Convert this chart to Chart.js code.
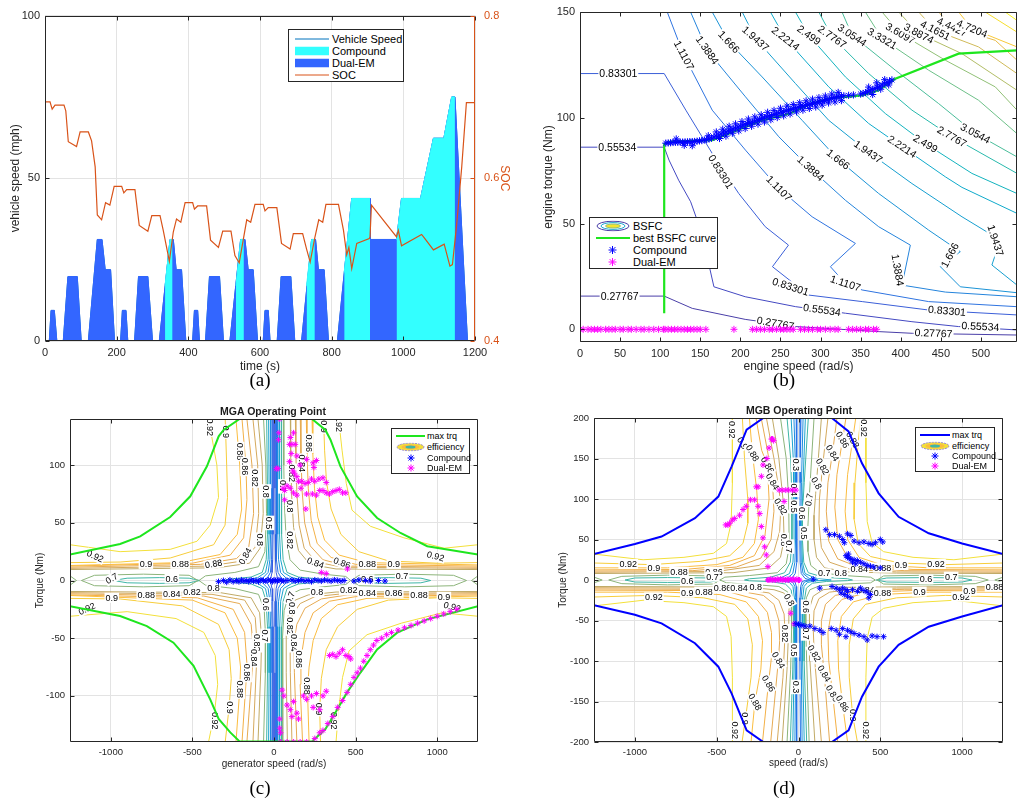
<!DOCTYPE html>
<html><head><meta charset="utf-8">
<script src="https://cdn.jsdelivr.net/npm/chart.js@4.4.1/dist/chart.umd.min.js"></script>
<style>
body{margin:0;width:1024px;height:806px;background:#fff;position:relative;overflow:hidden;font-family:"Liberation Sans",Arial,sans-serif;color:#000}
canvas{position:absolute;z-index:0}
.pl{position:absolute;z-index:2;font-family:"Liberation Serif","DejaVu Serif",serif;font-size:19px;transform:translate(-50%,-50%);white-space:nowrap}
.ttl{position:absolute;z-index:2;font-weight:bold;font-size:10.5px;transform:translate(-50%,-50%);white-space:nowrap;color:#1a1a1a}
.lg{position:absolute;z-index:2;background:#fff;border:1px solid #262626;box-sizing:border-box}
.lg .it{position:absolute;left:0;transform:translateY(-50%)}
.lg .tx{position:absolute;white-space:nowrap;transform:translateY(-50%);line-height:1}
</style></head><body>
<canvas id="ca" width="512" height="390" style="left:0;top:0;width:512px;height:390px"></canvas>
<canvas id="cb" width="512" height="390" style="left:512px;top:0;width:512px;height:390px"></canvas>
<canvas id="cc" width="512" height="380" style="left:0;top:400px;width:512px;height:380px"></canvas>
<canvas id="cd" width="512" height="380" style="left:512px;top:400px;width:512px;height:380px"></canvas>

<div class="pl" style="left:260px;top:380px">(a)</div>
<div class="pl" style="left:784px;top:380px">(b)</div>
<div class="pl" style="left:260px;top:788px">(c)</div>
<div class="pl" style="left:784px;top:788px">(d)</div>
<div class="ttl" style="left:273px;top:411px">MGA Operating Point</div>
<div class="ttl" style="left:799px;top:410px">MGB Operating Point</div>

<!-- legend (a) -->
<div class="lg" style="left:288px;top:29px;width:116px;height:53px;font-size:11px">
  <svg class="it" style="left:6px;top:9px" width="34" height="4"><line x1="0" y1="2" x2="34" y2="2" stroke="#0072bd" stroke-width="1"/></svg>
  <div class="tx" style="left:43px;top:9px">Vehicle Speed</div>
  <svg class="it" style="left:6px;top:21px" width="34" height="9"><rect x="0" y="0" width="34" height="9" fill="#33ffff"/></svg>
  <div class="tx" style="left:43px;top:21px">Compound</div>
  <svg class="it" style="left:6px;top:33px" width="34" height="9"><rect x="0" y="0" width="34" height="9" fill="#3366ff"/></svg>
  <div class="tx" style="left:43px;top:33px">Dual-EM</div>
  <svg class="it" style="left:6px;top:45px" width="34" height="4"><line x1="0" y1="2" x2="34" y2="2" stroke="#d95319" stroke-width="1"/></svg>
  <div class="tx" style="left:43px;top:45px">SOC</div>
</div>

<!-- legend (b) -->
<div class="lg" style="left:589px;top:217px;width:129px;height:52px;font-size:11px">
  <svg class="it" style="left:6px;top:8px" width="34" height="11"><ellipse cx="17" cy="5.5" rx="16" ry="4.8" fill="none" stroke="#4a3fa8" stroke-width="1"/><ellipse cx="17" cy="5.5" rx="12" ry="3.4" fill="none" stroke="#1ba6d0" stroke-width="1"/><ellipse cx="17" cy="5.5" rx="7.5" ry="2" fill="#f5e52f" stroke="#8cc07a" stroke-width="1"/></svg>
  <div class="tx" style="left:43px;top:8px">BSFC</div>
  <svg class="it" style="left:6px;top:20px" width="34" height="4"><line x1="0" y1="2" x2="34" y2="2" stroke="#1ee61e" stroke-width="2.2"/></svg>
  <div class="tx" style="left:43px;top:20px">best BSFC curve</div>
  <svg class="it" style="left:18px;top:32px" width="9" height="9"><g stroke="#0000ff" stroke-width="1"><line x1="4.5" y1="0.5" x2="4.5" y2="8.5"/><line x1="0.5" y1="4.5" x2="8.5" y2="4.5"/><line x1="1.6" y1="1.6" x2="7.4" y2="7.4"/><line x1="7.4" y1="1.6" x2="1.6" y2="7.4"/></g></svg>
  <div class="tx" style="left:43px;top:32px">Compound</div>
  <svg class="it" style="left:18px;top:44px" width="9" height="9"><g stroke="#ff00ff" stroke-width="1"><line x1="4.5" y1="0.5" x2="4.5" y2="8.5"/><line x1="0.5" y1="4.5" x2="8.5" y2="4.5"/><line x1="1.6" y1="1.6" x2="7.4" y2="7.4"/><line x1="7.4" y1="1.6" x2="1.6" y2="7.4"/></g></svg>
  <div class="tx" style="left:43px;top:44px">Dual-EM</div>
</div>

<!-- legend (c) -->
<div class="lg" style="left:391px;top:428px;width:79px;height:46px;font-size:9px">
  <svg class="it" style="left:4px;top:7px" width="29" height="4"><line x1="0" y1="2" x2="29" y2="2" stroke="#1ee61e" stroke-width="2"/></svg>
  <div class="tx" style="left:35px;top:7px">max trq</div>
  <svg class="it" style="left:4px;top:18px" width="29" height="9"><ellipse cx="14.5" cy="4.5" rx="13.5" ry="3.8" fill="#f3e03a" stroke="#9a8ad8" stroke-dasharray="2,1"/><ellipse cx="14.5" cy="4.5" rx="9" ry="2.4" fill="#fbbd3f"/><ellipse cx="14.5" cy="4.5" rx="5" ry="1.5" fill="#3fb6a6"/></svg>
  <div class="tx" style="left:35px;top:18px">efficiency</div>
  <svg class="it" style="left:15px;top:28.5px" width="8" height="8"><g stroke="#0000ff" stroke-width="1"><line x1="4" y1="0.5" x2="4" y2="7.5"/><line x1="0.5" y1="4" x2="7.5" y2="4"/><line x1="1.5" y1="1.5" x2="6.5" y2="6.5"/><line x1="6.5" y1="1.5" x2="1.5" y2="6.5"/></g></svg>
  <div class="tx" style="left:35px;top:28.5px">Compound</div>
  <svg class="it" style="left:15px;top:38.5px" width="8" height="8"><g stroke="#ff00ff" stroke-width="1"><line x1="4" y1="0.5" x2="4" y2="7.5"/><line x1="0.5" y1="4" x2="7.5" y2="4"/><line x1="1.5" y1="1.5" x2="6.5" y2="6.5"/><line x1="6.5" y1="1.5" x2="1.5" y2="6.5"/></g></svg>
  <div class="tx" style="left:35px;top:38.5px">Dual-EM</div>
</div>

<!-- legend (d) -->
<div class="lg" style="left:915px;top:427px;width:80px;height:45px;font-size:9px">
  <svg class="it" style="left:4px;top:7px" width="30" height="4"><line x1="0" y1="2" x2="30" y2="2" stroke="#0000ff" stroke-width="2"/></svg>
  <div class="tx" style="left:36px;top:7px">max trq</div>
  <svg class="it" style="left:4px;top:17.5px" width="30" height="9"><ellipse cx="15" cy="4.5" rx="14" ry="3.8" fill="#f3e03a" stroke="#9a8ad8" stroke-dasharray="2,1"/><ellipse cx="15" cy="4.5" rx="9.5" ry="2.4" fill="#fbbd3f"/><ellipse cx="15" cy="4.5" rx="5" ry="1.5" fill="#3fb6a6"/></svg>
  <div class="tx" style="left:36px;top:17.5px">efficiency</div>
  <svg class="it" style="left:15px;top:28px" width="8" height="8"><g stroke="#0000ff" stroke-width="1"><line x1="4" y1="0.5" x2="4" y2="7.5"/><line x1="0.5" y1="4" x2="7.5" y2="4"/><line x1="1.5" y1="1.5" x2="6.5" y2="6.5"/><line x1="6.5" y1="1.5" x2="1.5" y2="6.5"/></g></svg>
  <div class="tx" style="left:36px;top:28px">Compound</div>
  <svg class="it" style="left:15px;top:38px" width="8" height="8"><g stroke="#ff00ff" stroke-width="1"><line x1="4" y1="0.5" x2="4" y2="7.5"/><line x1="0.5" y1="4" x2="7.5" y2="4"/><line x1="1.5" y1="1.5" x2="6.5" y2="6.5"/><line x1="6.5" y1="1.5" x2="1.5" y2="6.5"/></g></svg>
  <div class="tx" style="left:36px;top:38px">Dual-EM</div>
</div>

<script>
// ================= DATA =================
// ---- (a) drive cycle ----
const aTimeTicks = [0, 200, 400, 600, 800, 1000, 1200];
const aSpeedTicks = [0, 50, 100];
const aSocTicks = [0.4, 0.6, 0.8];
const speedT = [0, 12, 17, 26, 33, 51, 64, 90, 101, 121, 146, 159, 168, 183, 194, 211, 216, 226, 231, 250, 261, 287, 300,
  319, 349, 358, 366, 381, 393, 412, 417, 426, 431, 448, 459, 487, 498, 516, 546, 558, 567, 581, 593,
  609, 614, 623, 628, 648, 659, 686, 697, 716, 744, 755, 763, 779, 791,
  816, 856, 907, 907, 981, 995, 1048, 1084, 1113, 1135, 1144, 1179, 1200];
const speedV = [0, 0, 9.4, 9.4, 0, 0, 19.8, 19.8, 0, 0, 31.2, 31.2, 21.9, 21.9, 0, 0, 9.4, 9.4, 0, 0, 19.8, 19.8, 0,
  0, 31.2, 31.2, 21.9, 21.9, 0, 0, 9.4, 9.4, 0, 0, 19.8, 19.8, 0, 0, 31.2, 31.2, 21.9, 21.9, 0,
  0, 9.4, 9.4, 0, 0, 19.8, 19.8, 0, 0, 31.2, 31.2, 21.9, 21.9, 0,
  0, 43.8, 43.8, 31.2, 31.2, 43.8, 43.8, 62.3, 62.3, 75, 75, 0, 0];
const compT = [335, 349, 356, 356, 533, 546, 555, 555, 730, 744, 753, 753, 835, 856, 907, 907, 981, 995, 1048, 1084, 1113, 1135, 1144];
const compV = [17, 31.2, 31.2, null, 17, 31.2, 31.2, null, 17, 31.2, 31.2, null, 21, 43.8, 43.8, null, 31.2, 43.8, 43.8, 62.3, 62.3, 75, 75];
const socT = [0, 14, 20, 28, 53, 58, 65, 88, 98, 121, 130, 140, 146, 158, 169, 181, 193, 214, 220, 228, 251, 263, 287, 298, 321, 330, 347, 358, 367, 379, 391,
  412, 417, 426, 451, 462, 484, 496, 519, 530, 542, 563, 574, 586, 609, 614, 623, 647, 660, 684, 693, 719, 730, 740, 753, 764, 775, 784,
  819, 833, 842, 848, 856, 870, 905, 907, 911, 981, 986, 995, 1051, 1058, 1084, 1114, 1130, 1137, 1149, 1163, 1176, 1200];
const socV = [0.694, 0.694, 0.685, 0.690, 0.690, 0.683, 0.645, 0.639, 0.657, 0.657, 0.646, 0.614, 0.555, 0.549, 0.570, 0.567, 0.590, 0.590, 0.582, 0.586, 0.586, 0.542, 0.535, 0.554, 0.554, 0.536, 0.498, 0.534, 0.550, 0.546, 0.570,
  0.570, 0.562, 0.566, 0.566, 0.524, 0.515, 0.535, 0.535, 0.505, 0.496, 0.549, 0.546, 0.568, 0.568, 0.560, 0.564, 0.564, 0.520, 0.513, 0.532, 0.532, 0.513, 0.497, 0.527, 0.549, 0.546, 0.568,
  0.568, 0.536, 0.506, 0.515, 0.489, 0.520, 0.526, 0.528, 0.567, 0.528, 0.536, 0.517, 0.531, 0.527, 0.512, 0.519, 0.492, 0.494, 0.544, 0.614, 0.693, 0.693];

// ---- (b) engine BSFC map ----
const bSpeedTicks = [0, 50, 100, 150, 200, 250, 300, 350, 400, 450, 500];
const bTorqueTicks = [0, 50, 100, 150];
const bsfcLevels = ['0.27767', '0.55534', '0.83301', '1.1107', '1.3884', '1.666', '1.9437', '2.2214', '2.499', '2.7767', '3.0544', '3.3321', '3.6097', '3.8874', '4.1651', '4.4427', '4.7204', '4.998', '5.2757'];
const bsfcCurves = [
  [0,15.7, 105,15.7, 140,9.9, 206,4.7, 269,1.3, 373,-1.1, 415,-1.9, 545,-2.7],
  [0,86.1, 105,86.1, 111,80, 123,70.5, 138,60.3, 152,45.3, 167,20.1, 206,15.4, 269,10.7, 331,7.6, 414,3.6, 472,1.3, 545,-0.3],
  [0,120.9, 105,120.9, 132,103.6, 165,83.1, 198,64.2, 231,48.5, 260,39.8, 240,29.6, 285,16.2, 352,13.1, 435,9.1, 545,6.8],
  [108.8,150, 129.6,129.5, 164.9,103.6, 206.4,84.7, 248,66.6, 289.5,53.2, 343.5,40.6, 312.3,29.6, 331,21.7, 351.8,18.6, 434.8,13.1, 545,10.7],
  [137.9,150, 158.6,131.9, 206.4,109.9, 248,91, 287.4,76, 331,61, 372.5,48.5, 412,39.8, 401.6,20.9, 455.6,17.6, 545,15.4],
  [164.9,150, 185.6,135.8, 227.2,119.3, 277,98.8, 321.9,80.3, 372.5,64.2, 434.8,46.9, 474.3,36.7, 449.4,29.6, 474.3,20.1, 545,17.3],
  [202.3,150, 218.9,137.4, 268.7,116.2, 310.2,98.8, 359.2,83.9, 414,68.9, 476.4,53.2, 524.1,42.2, 513.7,30.4, 545,20.9],
  [237.5,150, 256.2,137.4, 310.2,114.6, 360,97.3, 401.6,86.3, 455.6,72.1, 476.4,67.1, 545,54.8],
  [268.7,150, 285.3,139, 331,119.3, 380.8,102, 430.7,87.8, 488.8,73.7, 545,64.2],
  [297.8,150, 314.4,138.2, 360,120.9, 414,103.6, 463.9,91, 545,73.7],
  [326.8,150, 339.3,139, 393.3,122.5, 447.3,106.7, 493,92.6, 545,81.5],
  [355.9,150, 376.7,137.4, 434.8,122.5, 497,108.3, 545,92.5],
  [376.7,150, 399.5,139.8, 455.6,127.2, 517.9,114.6, 545,103.6],
  [397.4,150, 422.4,139.8, 476.4,130.3, 545,113],
  [422.4,150, 443.1,141.3, 497,133.5, 545,120.9],
  [447.3,150, 463.9,142.9, 517.9,136.6, 545,127.2],
  [472.2,150, 488.8,142.1, 545,133.5],
  [505.3,150, 545,140.5],
  [530.3,150, 545,146]
];
const bestBsfc = [105,7.6, 105,87.6, 111,88.6, 165,89.4, 185.6,92.5, 227,98.8, 260.4,101.9, 289.5,106.7, 310.2,109.1, 351.8,110.6, 372.5,113, 393.3,118.5, 472.2,130.3, 545,131.9];
const bCompound = [107,88.0, 110,88.1, 113,88.2, 116,88.3, 119,88.4, 122,88.4, 125,88.5, 128,88.5, 131,88.6, 134,88.6, 137,88.7, 140,88.7, 143,88.8, 146,88.9, 149,89.1,
  152,89.2, 155,89.5, 158,89.7, 161,90.0, 164,90.4, 167,90.9, 170,91.3, 173,91.8, 176,92.3, 179,92.8, 182,93.3, 185,93.7, 188,94.2, 191,94.7, 194,95.1, 197,95.6,
  200,96.0, 203,96.5, 206,96.9, 209,97.3, 212,97.6, 215,98.0, 218,98.4, 221,98.8, 224,99.2, 227,99.6, 230,100.0, 233,100.4, 236,100.8, 239,101.1, 242,101.5,
  245,101.9, 248,102.2, 251,102.6, 254,102.9, 257,103.3, 260,103.6, 263,103.9, 266,104.3, 269,104.6, 272,104.9, 275,105.3, 278,105.6, 281,105.9, 284,106.2,
  287,106.5, 290,106.8, 293,107.0, 296,107.3, 299,107.6, 302,107.9, 305,108.2, 308,108.5, 311,108.9, 314,109.2, 317,109.5, 320,109.8, 323,110.0, 326,110.2,
  329,110.4, 335,110.6, 341,110.8, 350,111.2, 353,111.5, 356,111.9, 359,112.2, 362,112.7, 365,113.3, 368,113.8, 371,114.4, 374,114.9, 377,115.5, 380,116.1,
  383,116.7, 386,117.3, 389,117.9,
  170,93.3, 178,94.6, 186,96, 194,97.1, 202,98.2, 210,99.4, 218,100.4, 226,101.4, 234,102.6, 242,103.5, 250,104.5, 258,105.5, 266,106.3, 274,107.1, 282,108,
  290,108.8, 298,109.5, 306,110.3, 314,111.2, 322,112,
  174,90.2, 182,91.3, 190,92.7, 198,93.8, 206,94.9, 214,96, 222,97, 230,98, 238,99.1, 246,100.1, 254,100.9, 262,101.8, 270,102.8, 278,103.6, 286,104.4,
  294,105.1, 302,106, 310,107, 318,107.5, 326,108.1,
  360,114.5, 370,116.5, 380,118, 365,111, 375,113.5, 385,115.5, 120,90, 140,86.8, 160,91.5, 130,87];
const bDualEM = [0,0, 4,0, 10,0, 14,0, 18,0, 22,0, 26,0, 32,0, 36,0, 40,0, 44,0, 50,0, 54,0, 60,0, 64,0, 70,0, 76,0, 80,0, 86,0, 92,0, 98,0, 104,0, 106,0, 110,0,
  114,0, 118,0, 122,0, 126,0, 130,0, 134,0, 138,0, 142,0, 146,0, 150,0, 157,0, 192,0, 215,0, 220,0, 225,0, 230,0, 236,0, 240,0, 245,0, 250,0, 254,0, 258,0, 262,0, 266,0,
  275,0, 280,0, 285,0, 290,0, 296,0, 300,0, 306,0, 312,0, 318,0, 322,0, 335,0, 340,0, 345,0, 350,0, 356,0, 360,0, 366,0, 370,0];
const bLabels = [
  ['0.83301',47.8,120.9,0], ['0.55534',46.5,85.8,0], ['0.27767',49.4,15.4,0],
  ['1.1107',129.6,129.5,62], ['1.3884',158.6,131.9,55], ['1.666',185.6,135.8,47], ['1.9437',218.9,137.4,42], ['2.2214',256.2,137.4,38],
  ['2.499',285.3,139,36], ['2.7767',314.4,138.2,35], ['3.0544',339.3,139,33], ['3.3321',376.7,137.4,30], ['3.6097',399.5,139.8,30],
  ['3.8874',422.4,139.8,28], ['4.1651',443.1,141.3,27], ['4.4427',463.9,142.9,25], ['4.7204',488.8,142.1,22],
  ['0.83301',175.3,74.5,58], ['1.1107',248,66.6,45], ['1.3884',287.4,76,42], ['1.666',321.9,80.3,38], ['1.9437',359.2,83.9,35],
  ['2.2214',401.6,86.3,33], ['2.499',430.7,87.8,30], ['2.7767',463.9,91,30], ['3.0544',493,92.6,28],
  ['0.83301',262.5,20.1,18], ['1.1107',331,21.7,18], ['1.3884',396,28,80], ['1.666',461.5,35,-62], ['1.9437',518,42,72],
  ['0.55534',301.9,9.1,8], ['0.83301',457.7,8.7,5], ['0.55534',499.2,1.3,3], ['0.27767',441,-1.9,2], ['0.27767',243.8,2.8,10]
];

// ---- (c) MGA efficiency map (flat x,y pairs, null = break) ----
const cSpeedTicks = [-1000, -500, 0, 500, 1000];
const cTorqueTicks = [-100, -50, 0, 50, 100];
const mgaLevels = ['0.92', '0.9', '0.88', '0.86', '0.84', '0.82', '0.8', '0.7', '0.6', '0.5', '0.4', '0.3', '0.2'];
const mgaCurves = [
  [396,140, 417,113, 443,84, 478,61, 591,47, 796,37, 1042,28, 1250,31, null,
   -401,140, -350,100, -340,72, -391,48, -472,34, -636,27, -943,25, -1250,31, null,
   380,-140, 395,-113, 420,-84, 460,-61, 570,-47, 780,-37, 1030,-28, 1250,-31, null,
   -401,-140, -365,-115, -345,-90, -360,-65, -430,-45, -600,-33, -900,-27, -1250,-31],
  [304,140, 310,113, 322,85, 350,62, 410,40, 520,25, 700,17, 1000,15, 1250,15.5, null,
   -299,140, -290,100, -285,72, -300,48, -370,31, -636,19.5, -943,16, -1250,15.5, null,
   285,-140, 280,-112, 290,-85, 320,-60, 390,-40, 510,-25, 700,-17, 1000,-15, 1250,-15.5, null,
   -299,-140, -275,-110, -262,-85, -275,-60, -340,-38, -560,-22, -943,-16, -1250,-15.5],
  [233,140, 238,110, 248,80, 268,55, 310,35, 400,22, 570,15.5, 1250,13.5, null,
   -233,140, -210,100, -198,62, -225,40, -330,22.5, -575,15.5, -1250,13, null,
   215,-140, 205,-95, 215,-75, 240,-52, 290,-33, 390,-21, 570,-15.5, 1250,-13.5, null,
   -233,-140, -210,-95, -205,-75, -225,-50, -300,-28, -500,-17, -1250,-13],
  [198,140, 202,110, 210,80, 228,52, 265,32, 350,20, 500,14, 1250,12.5, null,
   -196,140, -172,100, -166,70, -186,37, -268,22, -500,15, -1250,12.5, null,
   175,-140, 160,-90, 165,-68, 190,-45, 240,-28, 340,-18, 500,-14, 1250,-12.5, null,
   -196,-140, -170,-85, -166,-72, -180,-45, -250,-25, -470,-15, -1250,-12.5],
  [161,140, 165,110, 172,78, 188,50, 222,30, 300,18, 450,12.5, 1250,11.5, null,
   -166,140, -135,100, -125,58, -155,29, -230,19, -450,14, -1250,11.5, null,
   140,-140, 125,-80, 121,-54, 140,-38, 190,-24, 290,-16, 450,-12.5, 1250,-11.5, null,
   -166,-140, -135,-80, -125,-62, -140,-38, -210,-20, -430,-13.5, -1250,-11.5],
  [131,140, 134,110, 140,76, 154,48, 185,28, 260,16, 420,11.5, 1250,10.5, null,
   -129,140, -100,100, -94,58, -115,29, -190,17, -400,12.5, -1250,10.5, null,
   110,-140, 100,-80, 98,-45, 112,-30, 160,-20, 250,-14, 420,-11.5, 1250,-10.5, null,
   -129,-140, -108,-75, -104,-54, -115,-32, -180,-17, -380,-12, -1250,-10.5],
  [100,140, 102,110, 108,74, 120,46, 150,26, 220,14, 380,10, 1250,9.5, null,
   -98,140, -72,100, -66,58, -85,28, -150,15, -350,11, -1250,9.5, null,
   82,-140, 75,-80, 75,-45, 90,-26, 130,-17, 210,-12.5, 380,-10, 1250,-9.5, null,
   -98,-140, -80,-75, -76,-50, -88,-28, -140,-15, -330,-10.5, -1250,-9.5],
  [59,140, 60,100, 64,65, 74,38, 98,18, 160,9, 300,5.5, 440,3.5, 470,0, 440,-3.5, 300,-5.5, 160,-8, 90,-13, 62,-26, 52,-50, 52,-90, 55,-140, null,
   -64,140, -50,100, -46,58, -56,25, -95,12, -240,7, -420,4, -460,0, -420,-4, -240,-7, -95,-12, -60,-25, -52,-48, -53,-80, -64,-140, null,
   475,0, 520,4.5, 800,5.5, 1100,4.5, 1180,0, 1100,-4.5, 800,-5.5, 520,-4.5, 475,0, null,
   -465,0, -520,4.5, -800,5.5, -1100,4.5, -1180,0, -1100,-4.5, -800,-5.5, -520,-4.5, -465,0, null,
   1250,4, 1210,0, 1250,-4, null, -1250,4, -1210,0, -1250,-4],
  [45,140, 45,80, 48,40, 56,18, 80,7, 150,3, 280,1.2, 320,0, 280,-1.2, 150,-3, 80,-7, 56,-18, 48,-40, 45,-80, 45,-140, null,
   -45,140, -40,80, -40,40, -48,18, -72,7, -140,3, -270,1.2, -310,0, -270,-1.2, -140,-3, -72,-7, -48,-18, -40,-40, -40,-80, -45,-140, null,
   490,0, 540,2, 700,2.5, 900,2, 960,0, 900,-2, 700,-2.5, 540,-2, 490,0, null,
   -455,0, -520,2, -700,2.5, -900,2, -985,0, -900,-2, -700,-2.5, -520,-2, -455,0],
  [33,140, 33,80, 35,40, 41,18, 58,7, 110,2.5, 190,0, 110,-2.5, 58,-7, 41,-18, 35,-40, 33,-80, 33,-140, null,
   -33,140, -30,80, -30,40, -36,18, -52,7, -100,2.5, -180,0, -100,-2.5, -52,-7, -36,-18, -30,-40, -30,-80, -33,-140],
  [22,140, 22,80, 24,40, 28,18, 40,7, 75,2, 120,0, 75,-2, 40,-7, 28,-18, 24,-40, 22,-80, 22,-140, null,
   -22,140, -21,80, -21,40, -25,18, -36,7, -70,2, -115,0, -70,-2, -36,-7, -25,-18, -21,-40, -21,-80, -22,-140],
  [13,140, 13,80, 14,40, 17,18, 25,7, 45,2, 70,0, 45,-2, 25,-7, 17,-18, 14,-40, 13,-80, 13,-140, null,
   -13,140, -12,80, -12,40, -15,18, -22,7, -42,2, -65,0, -42,-2, -22,-7, -15,-18, -12,-40, -12,-80, -13,-140],
  [6,140, 6,80, 7,40, 9,18, 13,7, 22,2, 35,0, 22,-2, 13,-7, 9,-18, 7,-40, 6,-80, 6,-140, null,
   -6,140, -6,80, -6,40, -8,18, -12,7, -20,2, -33,0, -20,-2, -12,-7, -8,-18, -6,-40, -6,-80, -6,-140]
];
const mgaMaxTrqTop = [-1250,22.5, -943,31.7, -820,38.3, -636,55, -513,73, -411,99, -339,125, -309,130.5, -211,140, 233,140, 315,130.5, 346,122, 407,98.9, 509,72.9, 632,54.2, 775,41.2, 939,29.7, 1250,22.5];
const mgaMaxTrqBot = [-1250,-22.2, -943,-30.8, -779,-39.5, -616,-53.9, -493,-74, -391,-103, -339,-120, -268,-131.7, -211,-139.5, 233,-139.5, 315,-128.8, 366,-117, 448,-97, 530,-79.8, 632,-59.7, 755,-45.2, 939,-33.7, 1250,-22.2];
const mgaCompound = [-340,-1, -310,0, -290,-1.5, -270,0.5, -250,-1, -230,0, -215,-1, -200,0.5, -185,-0.5, -170,0, -155,-1, -140,0.5, -125,-0.5, -110,0, -95,-1, -80,0.5, -65,0,
  -50,-0.5, -35,0.5, -20,0, -10,-1, 0,0.5, 10,0, 20,-0.5, 30,0.5, 45,0, 60,-0.5, 80,0, 110,0.5, 130,-0.5, 150,0, 170,0.5, 190,-0.5, 210,0, 230,-1, 250,0.5, 270,0,
  290,-0.5, 310,0.5, 330,0, 350,-0.5, 370,0.5, 390,0, 410,-0.5, 430,0, 490,-0.5, 520,0.5, 560,0, 590,-0.5, 640,0, 680,-0.5];
const mgaDualEM = [35,140, 30,128, 28,122, 100,124, 120,128, 95,118, 110,118, 130,118, 105,110, 140,108, 160,100, 200,105, 240,102, 260,104, 245,98, 95,103, 115,95, 125,93,
  140,90, 150,86, 170,86, 190,84, 210,85, 230,88, 250,86, 275,88, 300,89, 320,85, 55,80, 65,78, 80,82, 100,80, 120,76, 140,74, 165,80, 200,75, 235,75, 260,74, 280,78,
  300,78, 320,76, 340,75, 360,77, 380,78, 400,79, 420,76, 440,76, 195,62, 15,97, 25,97, 65,70, 290,7, 320,6, 450,10,
  448,-97, 470,-90, 490,-84, 510,-80, 530,-76, 550,-70, 570,-65, 590,-60, 610,-56, 630,-52, 660,-50, 690,-47, 720,-45, 760,-43, 800,-41, 840,-39, 880,-37, 920,-35,
  960,-33, 1000,-31, 1040,-29, 1080,-27, 1120,-25, 250,-137, 280,-132, 300,-130, 330,-124, 360,-118, 390,-110, 420,-104,
  340,-65, 360,-64, 380,-66, 400,-63, 420,-60, 440,-65, 460,-66, 470,-68,
  50,-95, 60,-100, 80,-108, 100,-112, 120,-105, 110,-118, 140,-115, 150,-120, 180,-100, 200,-103, 230,-100, 260,-98, 300,-100, 320,-96, 240,-110, 280,-112,
  40,-140, 80,-140, 120,-140, 160,-140, 200,-140, 35,-120, 35,-128, 40,-132];
const mgaLabels = [
  ['0.92',-391,132.9,90], ['0.9',-292,129,90], ['0.88',-211,111.8,90], ['0.86',-176,98.9,90], ['0.82',-115,88.8,90], ['0.8',-49,77.2,90], ['0.8',-88,35.4,90], ['0.5',-29,49.9,90],
  ['0.9',305,133.4,90], ['0.92',397,136.3,90], ['0.86',213,119,90], ['0.84',172,101.7,90], ['0.82',110,93,90], ['0.7',55,81.6,90], ['0.8',100,64.3,90], ['0.82',100,35,90],
  ['0.92',-1096,21,25], ['0.9',-785,14.4,0], ['0.88',-575,14.4,0], ['0.88',-370,14.4,-10], ['0.84',-176,21,-60],
  ['0.84',254,15.3,20], ['0.86',417,15.3,20], ['0.88',571,14.4,0], ['0.9',734,14.4,0], ['0.92',990,21,15],
  ['0.7',-994,1.7,-30], ['0.6',-626,1.7,0], ['0.6',571,0.9,0], ['0.7',785,4.3,0],
  ['0.9',-994,-15,0], ['0.88',-783,-13,0], ['0.84',-626,-11.5,0], ['0.82',-503,-10,0], ['0.8',-370,-6.3,0],
  ['0.8',264,-10,0], ['0.82',458,-8.6,0], ['0.84',571,-10.7,0], ['0.86',734,-10.7,0], ['0.88',888,-13,0], ['0.9',1041,-14.1,0], ['0.92',1092,-22.8,15], ['0.92',-1147,-24.5,-25],
  ['0.6',-47,-20.7,90], ['0.7',100,-15,-70], ['0.8',110,-24,90],
  ['0.7',-53,-48,90], ['0.82',-104,-54,90], ['0.84',-125,-66.9,90], ['0.86',-166,-79.8,90], ['0.88',-207,-94.2,90], ['0.9',-268,-110,90], ['0.92',-360,-121.6,90],
  ['0.82',100,-39.5,90], ['0.84',121,-54,90], ['0.86',151,-68.3,90], ['0.88',202,-91.4,90], ['0.9',274,-111.5,90], ['0.92',366,-121.6,90]
];

// ---- (d) MGB efficiency map ----
const dSpeedTicks = [-1000, -500, 0, 500, 1000];
const dTorqueTicks = [-200, -150, -100, -50, 0, 50, 100, 150, 200];
const mgbLevels = ['0.92', '0.9', '0.88', '0.86', '0.84', '0.82', '0.8', '0.7', '0.6', '0.5', '0.4', '0.3'];
const mgbCurves = [
  [412,200, 412,120, 420,72, 450,46, 520,35, 700,28, 950,25, 1250,32, null,
   -404,200, -404,120, -412,70, -440,45, -520,33, -700,28, -950,25, -1250,32, null,
   412,-200, 412,-120, 420,-72, 450,-46, 520,-35, 700,-28, 950,-25, 1250,-32, null,
   -404,-200, -404,-120, -412,-70, -440,-45, -520,-33, -700,-28, -950,-25, -1250,-32],
  [380,200, 365,170, 345,120, 340,75, 365,45, 440,29, 620,21, 900,19, 1250,21, null,
   -343,200, -330,150, -310,100, -310,70, -340,45, -420,30, -600,23, -900,19, -1250,21, null,
   360,-200, 331,-167, 310,-120, 310,-80, 335,-48, 410,-30, 600,-22, 900,-19, 1250,-21, null,
   -345,-200, -320,-165, -290,-120, -282,-80, -310,-48, -390,-30, -580,-22, -900,-19, -1250,-21],
  [350,200, 331,173, 300,130, 285,85, 300,50, 370,28, 520,18, 800,15, 1250,15, null,
   -300,200, -282,157, -255,110, -245,75, -270,45, -340,28, -500,19, -800,15, -1250,15, null,
   300,-200, 269,-153, 245,-110, 240,-75, 262,-45, 335,-27, 500,-18, 800,-15, 1250,-15, null,
   -290,-200, -266,-150, -230,-110, -220,-75, -245,-45, -320,-27, -480,-18, -800,-15, -1250,-15],
  [290,200, 269,173, 235,130, 222,90, 240,50, 300,28, 440,17, 700,13, 1250,12.5, null,
   -260,200, -225,160, -190,142, -180,100, -205,55, -270,30, -420,18, -700,13, -1250,12.5, null,
   240,-200, 208,-140, 185,-100, 180,-65, 200,-40, 265,-24, 430,-15, 700,-13, 1250,-12.5, null,
   -220,-200, -184,-128, -165,-95, -165,-65, -190,-40, -255,-24, -420,-15, -700,-13, -1250,-12.5],
  [235,200, 208,157, 180,120, 170,85, 185,48, 240,26, 380,15, 650,11.5, 1250,11, null,
   -228,200, -190,160, -159,122, -150,85, -168,50, -230,27, -380,16, -650,11.5, -1250,11, null,
   190,-200, 157,-115, 140,-80, 140,-50, 165,-30, 225,-19, 380,-13, 650,-11.5, 1250,-11, null,
   -170,-200, -123,-99, -115,-75, -120,-50, -150,-30, -215,-19, -380,-13, -650,-11.5, -1250,-11],
  [180,200, 147,140, 128,100, 125,70, 140,40, 190,22, 320,13, 600,10, 1250,9.5, null,
   -196,200, -150,150, -118,110, -108,91, -115,60, -150,35, -240,18, -500,10.5, -1250,9.5, null,
   140,-200, 96,-91, 90,-60, 95,-38, 125,-23, 190,-15, 330,-11.5, 600,-10, 1250,-9.5, null,
   -130,-200, -95,-120, -82,-66, -88,-42, -120,-25, -180,-16, -330,-11.5, -600,-10, -1250,-9.5],
  [140,200, 110,120, 95,80, 95,50, 110,28, 160,15, 300,10, 600,8.5, 1250,8, null,
   -160,200, -120,150, -95,100, -88,50, -110,28, -180,15, -400,9, -1250,8, null,
   100,-200, 70,-100, 66,-60, 68,-35, 90,-20, 150,-12, 290,-9, 600,-8.5, 1250,-8, null,
   -100,-200, -70,-110, -60,-60, -57,-25, -90,-16, -150,-12, -300,-9, -600,-8.5, -1250,-8],
  [95,200, 65,99, 56,60, 58,35, 75,18, 130,9, 280,5.5, 440,3.5, 470,0, 440,-3.5, 280,-5, 130,-7, 70,-12, 48,-22, 42,-40, 45,-66, 65,-200, null,
   -110,200, -75,150, -60,100, -57,41, -75,20, -130,9, -300,5.5, -450,3.5, -480,0, -440,-3.5, -280,-5.5, -120,-8, -65,-15, -45,-30, -42,-60, -48,-110, -70,-200, null,
   480,0, 520,5, 800,6, 1080,4.5, 1160,0, 1080,-4.5, 800,-6, 520,-5, 480,0, null,
   -480,0, -520,5, -800,6, -1080,4.5, -1160,0, -1080,-4.5, -800,-6, -520,-5, -480,0, null,
   1250,3.5, 1200,0, 1250,-3.5, null, -1250,3.5, -1200,0, -1250,-3.5],
  [60,200, 35,120, 24,83, 24,50, 32,22, 60,9, 150,3.5, 300,1.5, 330,0, 300,-0.8, 170,-1.8, 85,-4, 48,-10, 36,-25, 34,-50, 35,-100, 50,-200, null,
   -70,200, -48,150, -40,100, -40,50, -50,22, -85,9, -170,3.5, -300,1.5, -330,0, -300,-1, -170,-2, -80,-5, -45,-12, -32,-30, -30,-60, -35,-110, -50,-200, null,
   475,0, 540,2.5, 800,3, 1000,2.5, 1060,0, 1000,-2.5, 800,-3, 540,-2.5, 475,0, null,
   -475,0, -540,2.5, -800,3, -1000,2.5, -1060,0, -1000,-2.5, -800,-3, -540,-2.5, -475,0],
  [42,200, 28,120, 22,80, 20,50, 24,22, 40,8, 100,2.5, 200,0, 110,-1, 55,-3, 34,-8, 26,-22, 24,-50, 26,-100, 35,-200, null,
   -45,200, -32,150, -28,100, -27,50, -34,22, -55,8, -110,2.5, -200,0, -110,-1, -55,-3, -34,-8, -25,-22, -24,-50, -26,-87, -35,-200],
  [28,200, 18,120, 15,80, 14,50, 17,22, 28,8, 65,2, 120,0, 70,-0.8, 36,-2.5, 22,-8, 16,-22, 15,-50, 17,-100, 22,-200, null,
   -28,200, -20,150, -18,100, -18,50, -22,22, -35,8, -70,2, -120,0, -70,-0.8, -36,-2.5, -22,-8, -17,-22, -16,-50, -18,-100, -22,-200],
  [15,200, 10,120, 8,80, 8,50, 10,22, 17,8, 40,2, 70,0, 42,-0.5, 22,-2, 13,-8, 9,-22, 8,-50, 9,-100, 12,-200, null,
   -14,200, -10,150, -10,100, -10,50, -12,22, -20,8, -42,2, -70,0, -42,-0.5, -22,-2, -13,-8, -10,-22, -10,-60, -12,-120, -12,-200]
];
const mgbMaxTrqTop = [-1250,32, -1000,44.5, -837,53.6, -633,76.3, -490,103, -409,140, -317,185.6, -215,200, 204,200, 306,183.5, 388,144, 490,107, 612,78, 796,57.7, 1000,45, 1250,32];
const mgbMaxTrqBot = [-1250,-31, -1000,-43, -837,-53.6, -633,-78, -490,-107, -409,-140, -317,-185.6, -215,-200, 204,-200, 306,-185.6, 388,-144, 490,-107, 612,-80, 796,-57.7, 1000,-45, 1250,-31];
const mgbDualEM = [-159,174, -165,174, -152,172, -180,163, -193,150, -217,142, -227,128, -247,115, -258,115, -268,99, -294,99, -319,91, -339,87, -360,80, -390,76, -405,74,
  -421,70, -431,68, -445,68, -247,91, -237,82, -227,66, -217,52, -207,41, -197,31, -187,16.5, -118,111, -100,111, -78,111, -60,111, -37,111, -16,111, -88,97,
  -187,0, -180,0, -170,1, -160,0, -150,1, -140,0, -130,1, -120,0, -110,1, -100,0, -90,1, -80,0, -70,1, -60,0, -50,1, -40,0, -30,1, -20,0, -10,1, 0,0, 6,0,
  -47,-41, -27,-54];
const mgbCompound = [167,62, 190,56, 220,56, 250,54, 270,50, 280,46, 300,57, 320,55, 340,48, 370,46, 400,47, 430,45, 450,44, 470,46, 500,50, 515,47,
  290,30, 300,28, 310,27, 320,26, 340,25, 360,24, 380,22, 400,20, 420,18, 440,17, 460,16, 500,15, 305,32, 330,22, 350,20,
  90,1, 130,-10, 205,-8, 230,-10, 250,-12, 260,-16, 280,-18, 300,-20, 320,-22, 300,-14, 330,-12, 360,-14, 380,-10, 400,-13, 420,-15, 440,-18, 430,-22, 270,-10, 290,-12,
  -16,-54, 0,-55, 20,-56, 40,-57, 70,-57, 100,-60, 130,-62, 150,-65, 200,-60, 230,-62, 250,-67, 270,-60, 300,-62, 320,-64, 340,-66, 370,-68, 400,-70, 420,-74, 450,-69,
  480,-70, 520,-70, 290,-70];
const mgbLabels = [
  ['0.92',-404,185.6,90], ['0.9',-343,169,60], ['0.88',-282,156.7,60], ['0.86',-190,142,60], ['0.84',-159,121.6,60], ['0.82',-108,90.7,60], ['0.8',-88,49.5,90], ['0.7',-57,41.2,90],
  ['0.3',-16,142.3,90], ['0.4',-26,111.3,90], ['0.5',-26,90.7,90], ['0.5',35,57.7,90], ['0.6',24,82.5,90], ['0.7',65,99,-80],
  ['0.8',110,119.6,60], ['0.82',147,140,60], ['0.84',208,156.7,60], ['0.86',269,173,60], ['0.88',331,173,60], ['0.92',402,187.6,90],
  ['0.92',-1041,19.8,0], ['0.9',-884,15.3,0], ['0.88',-730,10.3,0], ['0.86',-516,10.3,0], ['0.7',-526,4.1,0], ['0.6',-680,-1.2,0],
  ['0.7',157,8.2,0], ['0.8',259,9,0], ['0.84',371,13.2,0], ['0.88',514,15.3,0], ['0.9',627,18.6,0], ['0.92',841,19.8,0], ['0.6',780,0.8,0], ['0.7',933,4.1,0],
  ['0.92',-884,-21.4,0], ['0.9',-680,-15.7,0], ['0.88',-578,-14.4,0], ['0.86',-465,-10.3,0], ['0.84',-363,-10.3,0], ['0.8',-261,-9,0],
  ['0.84',412,-12.4,0], ['0.88',514,-15.7,0], ['0.9',739,-14.4,0], ['0.92',994,-20.6,0], ['0.9',1045,-13.2,0], ['0.88',1198,-8.2,0],
  ['0.82',-82,-66,90], ['0.84',-123,-99,60], ['0.86',-184,-127.8,60], ['0.88',-266,-150.5,60], ['0.9',-327,-171,90], ['0.92',-388,-185.6,90],
  ['0.5',-26,-86.6,90], ['0.3',-16,-132,90], ['0.8',-57,-24.7,60], ['0.6',45,-33,90], ['0.7',45,-66,90],
  ['0.82',96,-90.7,60], ['0.84',157,-115.5,60], ['0.86',208,-140,60], ['0.88',269,-152.6,60], ['0.9',331,-167,90], ['0.92',412,-185.6,90]
];

// ================= STYLE =================
const FONT = '"Liberation Sans", Arial, Helvetica, sans-serif';
Chart.defaults.font.family = FONT;
const bsfcColors = ['#4a3fa8', '#4449c2', '#3b5fd8', '#2f74e0', '#2484dc', '#1b93d6', '#169fd0', '#0faacb', '#13b3be', '#28b9ac', '#4abd9a', '#6dc088', '#91c076', '#b2bd66', '#d0ba58', '#e9bb48', '#f8c93a', '#f6de2c', '#f8f11a'];
const effColors = ['#f3e03a', '#f7cd3a', '#fbbd3f', '#f3b046', '#e6aa52', '#d5a95c', '#c1aa66', '#8cb47a', '#3fb6a6', '#1ba4cf', '#1c8ce0', '#2672e6', '#3559e0'];

function pairs(flat) {
  const out = [];
  for (let i = 0; i < flat.length;) {
    if (flat[i] === null) { out.push({x: out.length ? out[out.length - 1].x : 0, y: null}); i++; }
    else { out.push({x: flat[i], y: flat[i + 1]}); i += 2; }
  }
  return out;
}
function tickSetter(arr) { return s => { s.ticks = arr.map(v => ({value: v})); }; }

const boxPlugin = {
  id: 'box',
  afterDraw(chart, args, o) {
    const {ctx, chartArea: a, scales} = chart;
    const tl = o.tick || 4;
    const L = Math.round(a.left) + 0.5, R = Math.round(a.right) - 0.5, T = Math.round(a.top) + 0.5, B = Math.round(a.bottom) - 0.5;
    ctx.save(); ctx.lineWidth = 1; ctx.strokeStyle = o.color || '#262626';
    ctx.beginPath();
    ctx.moveTo(L, B); ctx.lineTo(L, T); ctx.lineTo(R, T);
    if (!scales.y1) ctx.lineTo(R, B);
    ctx.moveTo(L, B); ctx.lineTo(R, B);
    for (const t of scales.x.ticks) { const p = Math.round(scales.x.getPixelForValue(t.value)) + 0.5; ctx.moveTo(p, B); ctx.lineTo(p, B - tl); ctx.moveTo(p, T); ctx.lineTo(p, T + tl); }
    for (const t of scales.y.ticks) { const p = Math.round(scales.y.getPixelForValue(t.value)) + 0.5; ctx.moveTo(L, p); ctx.lineTo(L + tl, p); if (!scales.y1) { ctx.moveTo(R, p); ctx.lineTo(R - tl, p); } }
    ctx.stroke();
    if (scales.y1) {
      ctx.strokeStyle = o.color2; ctx.beginPath(); ctx.moveTo(R, T); ctx.lineTo(R, B);
      for (const t of scales.y1.ticks) { const p = Math.round(scales.y1.getPixelForValue(t.value)) + 0.5; ctx.moveTo(R, p); ctx.lineTo(R - tl, p); }
      ctx.stroke();
    }
    ctx.restore();
  }
};
function labelPlugin(items, size) {
  return {
    id: 'clabel',
    afterDatasetDraw(chart, args) {
      if (!chart.data.datasets[args.index].labelHook) return;
      const {ctx, chartArea: a} = chart; const xs = chart.scales.x, ys = chart.scales.y;
      ctx.save(); ctx.beginPath(); ctx.rect(a.left, a.top, a.right - a.left, a.bottom - a.top); ctx.clip();
      ctx.font = size + 'px ' + FONT; ctx.textAlign = 'center'; ctx.textBaseline = 'middle';
      for (const [t, x, y, r] of items) {
        const px = xs.getPixelForValue(x), py = ys.getPixelForValue(y);
        ctx.save(); ctx.translate(px, py); ctx.rotate(r * Math.PI / 180);
        const w = ctx.measureText(t).width;
        ctx.fillStyle = '#fff'; ctx.fillRect(-w / 2 - 1, -size / 2 - 0.5, w + 2, size + 1);
        ctx.fillStyle = '#000'; ctx.fillText(t, 0, 0.5);
        ctx.restore();
      }
      ctx.restore();
    }
  };
}
function axis(o) {
  return {
    type: 'linear', position: o.pos, min: o.min, max: o.max,
    afterBuildTicks: tickSetter(o.ticks),
    afterFit: s => { if (o.w !== undefined) s.width = o.w; if (o.h !== undefined) s.height = o.h; },
    grid: o.grid ? {color: o.grid, drawTicks: false} : {display: false, drawTicks: false},
    border: {display: false},
    ticks: {padding: o.tpad, color: o.tcolor || '#262626', font: {size: o.tsize}, callback: o.fmt || (v => String(v)), maxRotation: 0, autoSkip: false},
    title: {display: true, text: o.title, color: o.tcolor || '#262626', font: {size: o.lsize}, padding: o.lpad}
  };
}
function contourSets(curves, colors) {
  return curves.map((c, i) => ({
    data: pairs(c), showLine: true, borderColor: colors[i], borderWidth: 1, pointRadius: 0, pointHitRadius: 0,
    spanGaps: false, order: 10, labelHook: i === 0
  }));
}
function starSet(flat, color, r) {
  return {data: pairs(flat), pointStyle: 'star', pointRadius: r, borderColor: color, backgroundColor: color, borderWidth: 1, showLine: false, order: 1};
}
const common = {responsive: false, animation: false, events: [], plugins: {legend: {display: false}, tooltip: {enabled: false}}};

// ================= (a) =================
new Chart(document.getElementById('ca'), {
  type: 'line',
  data: {datasets: [
    {label: 'SOC', data: socT.map((t, i) => ({x: t, y: socV[i]})), yAxisID: 'y1', borderColor: '#d95319', borderWidth: 1.2, pointRadius: 0, fill: false, order: 0},
    {label: 'Compound', data: compT.map((t, i) => ({x: t, y: compV[i]})), yAxisID: 'y', borderColor: '#33ffff', borderWidth: 1, backgroundColor: '#33ffff', pointRadius: 0, fill: 'origin', spanGaps: false, order: 1},
    {label: 'Dual-EM', data: speedT.map((t, i) => ({x: t, y: speedV[i]})), yAxisID: 'y', borderColor: '#3366ff', borderWidth: 1, backgroundColor: '#3366ff', pointRadius: 0, fill: 'origin', order: 2},
    {label: 'Vehicle Speed', data: speedT.map((t, i) => ({x: t, y: speedV[i]})), yAxisID: 'y', borderColor: '#0072bd', borderWidth: 1, pointRadius: 0, fill: false, order: 3}
  ]},
  options: Object.assign({}, common, {
    layout: {padding: {top: 14, right: 0, left: 0, bottom: 0}},
    plugins: Object.assign({}, common.plugins, {box: {color: '#262626', color2: '#d95319', tick: 4}}),
    scales: {
      x: axis({pos: 'bottom', min: 0, max: 1200, ticks: aTimeTicks, h: 49, grid: '#e3e3e3', tpad: 5, tsize: 11, title: 'time (s)', lsize: 12, lpad: {top: 0, bottom: 16}}),
      y: axis({pos: 'left', min: 0, max: 100, ticks: aSpeedTicks, w: 45, grid: '#e3e3e3', tpad: 5, tsize: 11, title: 'vehicle speed (mph)', lsize: 12, lpad: {top: 8, bottom: 0}}),
      y1: axis({pos: 'right', min: 0.4, max: 0.8, ticks: aSocTicks, w: 37, tpad: 9, tsize: 11, tcolor: '#d95319', fmt: v => v.toFixed(1), title: 'SOC', lsize: 12, lpad: {top: 0, bottom: 0}})
    }
  }),
  plugins: [boxPlugin]
});

// ================= (b) =================
new Chart(document.getElementById('cb'), {
  type: 'scatter',
  data: {datasets: [
    starSet(bCompound, '#0000ff', 3.6),
    starSet(bDualEM, '#ff00ff', 3.5),
    {data: pairs(bestBsfc), showLine: true, borderColor: '#1ee61e', borderWidth: 2.2, pointRadius: 0, order: 2}
  ].concat(contourSets(bsfcCurves, bsfcColors))},
  options: Object.assign({}, common, {
    layout: {padding: {top: 12, right: 7, left: 0, bottom: 0}},
    plugins: Object.assign({}, common.plugins, {box: {color: '#262626', tick: 4}}),
    scales: {
      x: axis({pos: 'bottom', min: 0, max: 545, ticks: bSpeedTicks, h: 48, tpad: 5, tsize: 11, title: 'engine speed (rad/s)', lsize: 12, lpad: {top: 0, bottom: 16}}),
      y: axis({pos: 'left', min: -6, max: 150, ticks: bTorqueTicks, w: 68, tpad: 5, tsize: 11, title: 'engine torque (Nm)', lsize: 12, lpad: {top: 29, bottom: 0}})
    }
  }),
  plugins: [boxPlugin, labelPlugin(bLabels, 10.5)]
});

// ================= (c) =================
new Chart(document.getElementById('cc'), {
  type: 'scatter',
  data: {datasets: [
    starSet(mgaCompound, '#0000ff', 3),
    starSet(mgaDualEM, '#ff00ff', 3),
    {data: pairs(mgaMaxTrqTop), showLine: true, borderColor: '#1ee61e', borderWidth: 2, pointRadius: 0, order: 2},
    {data: pairs(mgaMaxTrqBot), showLine: true, borderColor: '#1ee61e', borderWidth: 2, pointRadius: 0, order: 2}
  ].concat(contourSets(mgaCurves, effColors))},
  options: Object.assign({}, common, {
    layout: {padding: {top: 19, right: 34, left: 0, bottom: 0}},
    plugins: Object.assign({}, common.plugins, {box: {color: '#262626', tick: 4}}),
    scales: {
      x: axis({pos: 'bottom', min: -1250, max: 1250, ticks: cSpeedTicks, h: 38, grid: '#e3e3e3', tpad: 5, tsize: 9.5, title: 'generator speed (rad/s)', lsize: 10, lpad: {top: 0, bottom: 9.5}}),
      y: axis({pos: 'left', min: -140, max: 140, ticks: cTorqueTicks, w: 70, grid: '#e3e3e3', tpad: 5, tsize: 9.5, title: 'Torque (Nm)', lsize: 10, lpad: {top: 34, bottom: 0}})
    }
  }),
  plugins: [boxPlugin, labelPlugin(mgaLabels, 9)]
});

// ================= (d) =================
new Chart(document.getElementById('cd'), {
  type: 'scatter',
  data: {datasets: [
    starSet(mgbCompound, '#0000ff', 3),
    starSet(mgbDualEM, '#ff00ff', 3),
    {data: pairs(mgbMaxTrqTop), showLine: true, borderColor: '#0000ff', borderWidth: 2, pointRadius: 0, order: 2},
    {data: pairs(mgbMaxTrqBot), showLine: true, borderColor: '#0000ff', borderWidth: 2, pointRadius: 0, order: 2}
  ].concat(contourSets(mgbCurves, effColors))},
  options: Object.assign({}, common, {
    layout: {padding: {top: 18, right: 21, left: 0, bottom: 0}},
    plugins: Object.assign({}, common.plugins, {box: {color: '#262626', tick: 4}}),
    scales: {
      x: axis({pos: 'bottom', min: -1250, max: 1250, ticks: dSpeedTicks, h: 38, grid: '#e3e3e3', tpad: 5, tsize: 9.5, title: 'speed (rad/s)', lsize: 10, lpad: {top: 0, bottom: 10.5}}),
      y: axis({pos: 'left', min: -200, max: 200, ticks: dTorqueTicks, w: 82, grid: '#e3e3e3', tpad: 5, tsize: 9.5, title: 'Torque (Nm)', lsize: 10, lpad: {top: 45, bottom: 0}})
    }
  }),
  plugins: [boxPlugin, labelPlugin(mgbLabels, 9)]
});
</script>
</body></html>
